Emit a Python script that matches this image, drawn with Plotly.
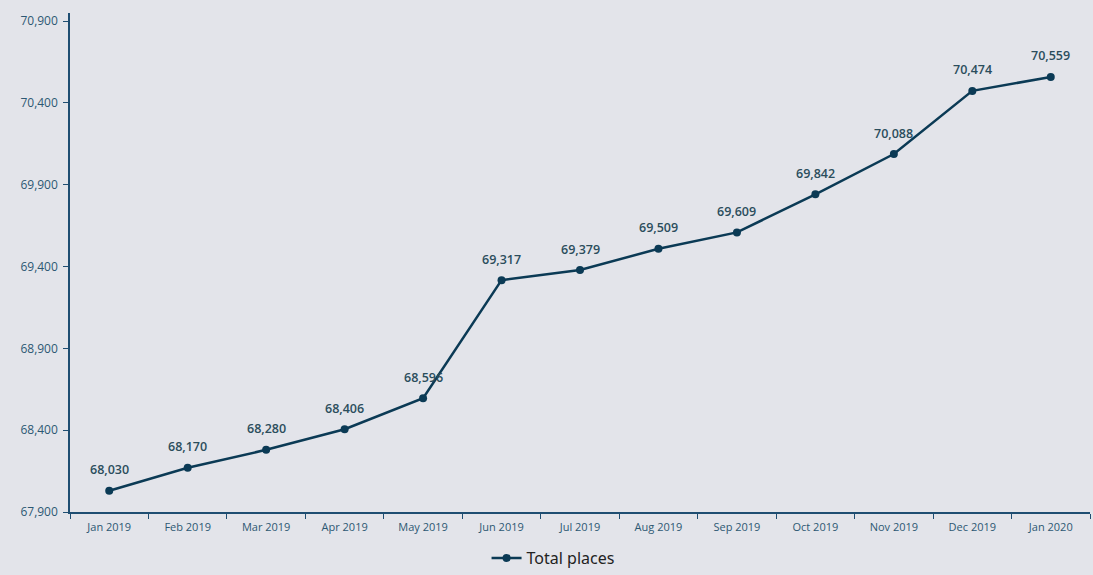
import plotly.graph_objects as go

months = ["Jan 2019", "Feb 2019", "Mar 2019", "Apr 2019", "May 2019", "Jun 2019",
          "Jul 2019", "Aug 2019", "Sep 2019", "Oct 2019", "Nov 2019", "Dec 2019", "Jan 2020"]
total_places = [68030, 68170, 68280, 68406, 68596, 69317, 69379, 69509, 69609,
                69842, 70088, 70474, 70559]
y_ticks = [67900, 68400, 68900, 69400, 69900, 70400, 70900]

bg = "#e3e4ea"
navy = "#0b3a55"
axis_col = "#1f4e72"
tick_col = "#2d5873"

fig = go.Figure()
fig.add_trace(go.Scatter(
    x=months, y=total_places, mode="lines+markers",
    name="Total places",
    line=dict(color=navy, width=2.5),
    marker=dict(color=navy, size=8),
    cliponaxis=False,
))

for m, v in zip(months, total_places):
    fig.add_annotation(
        x=m, y=v, text=f"{v:,}", showarrow=False,
        xanchor="center", yanchor="middle", yshift=21,
        font=dict(family="Open Sans", size=12.5, color="#2b4d5c", weight=600),
    )

fig.update_layout(
    width=1093, height=575,
    paper_bgcolor=bg, plot_bgcolor=bg,
    margin=dict(l=70, r=3, t=13, b=63, autoexpand=False),
    showlegend=True,
    legend=dict(orientation="h", xref="container", yref="container",
                x=0.506, xanchor="center", y=0.0, yanchor="bottom",
                font=dict(family="Source Sans Pro, Noto Sans, sans-serif", size=16, color="#222222")),
    xaxis=dict(
        type="category", showgrid=False, zeroline=False,
        showline=True, linecolor=axis_col, linewidth=1.5,
        ticks="outside", tickson="boundaries", ticklen=5, tickcolor=axis_col,
        tickfont=dict(family="Open Sans", size=11, color=tick_col),
        ticklabelstandoff=4,
        range=[-0.5, 12.5],
    ),
    yaxis=dict(
        range=[67900, 70950], tickvals=y_ticks,
        ticktext=[f"{v:,}" for v in y_ticks],
        showgrid=False, zeroline=False,
        showline=True, linecolor=axis_col, linewidth=1.5,
        ticks="outside", ticklen=5, tickcolor=axis_col,
        tickfont=dict(family="Open Sans", size=12, color=tick_col),
        ticklabelstandoff=3,
    ),
)

fig.write_html(
    "out.html",
    config={"displayModeBar": False},
    post_script="document.body.style.margin='0';document.body.style.background='#e3e4ea';",
)
